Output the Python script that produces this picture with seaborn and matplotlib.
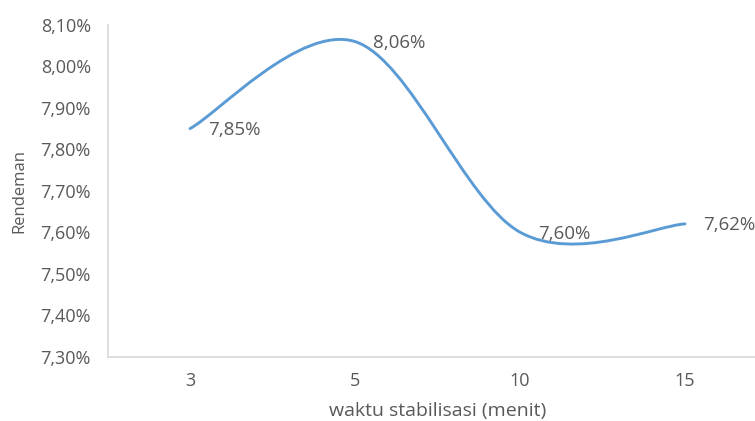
import numpy as np
import matplotlib
matplotlib.use("Agg")
import matplotlib.pyplot as plt
from matplotlib.path import Path
from matplotlib.patches import PathPatch
import seaborn as sns

# Data
waktu = ["3", "5", "10", "15"]
rendeman = [7.85, 8.06, 7.60, 7.62]
y_ticks = [7.30, 7.40, 7.50, 7.60, 7.70, 7.80, 7.90, 8.00, 8.10]

LINE = "#5B9BD5"
TEXT = "#595959"
AXIS = "#D9D9D9"

sns.set_theme(style="white")
plt.rcParams["font.family"] = ["Open Sans", "DejaVu Sans"]

fig = plt.figure(figsize=(7.55, 4.21), dpi=100)
ax = fig.add_axes([107.5 / 755, 64.5 / 421, 660 / 755, 331.5 / 421])

x = np.arange(len(waktu), dtype=float)
y = np.array(rendeman)

# Smoothed line: cubic Bezier segments with Catmull-Rom style control points
pts = np.column_stack([x, y])
ext = np.vstack([pts[0], pts, pts[-1]])
verts = [tuple(pts[0])]
codes = [Path.MOVETO]
for i in range(len(pts) - 1):
    p_prev, p0, p1, p_next = ext[i], ext[i + 1], ext[i + 2], ext[i + 3]
    c1 = p0 + (p1 - p_prev) / 6.0
    c2 = p1 - (p_next - p0) / 6.0
    verts += [tuple(c1), tuple(c2), tuple(p1)]
    codes += [Path.CURVE4] * 3
ax.add_patch(PathPatch(Path(verts, codes), facecolor="none", edgecolor=LINE,
                       lw=2.1, capstyle="round", joinstyle="round",
                       transform=ax.transData, zorder=3))

# Value labels to the right of each point
for xi, yi in zip(x, y):
    ax.annotate(f"{yi:.2f}%".replace(".", ","), (xi, yi), xytext=(13, -1),
                textcoords="offset points", ha="left", va="center",
                fontsize=13.5, color=TEXT, zorder=4)

ax.set_xlim(-0.5, len(waktu) - 0.5)
ax.set_ylim(y_ticks[0], y_ticks[-1])
ax.set_xticks(x)
ax.set_xticklabels(waktu)
ax.set_yticks(y_ticks)
ax.set_yticklabels([f"{t:.2f}%".replace(".", ",") for t in y_ticks])
ax.tick_params(axis="both", length=0, labelsize=13, labelcolor=TEXT)
ax.tick_params(axis="x", pad=11)
ax.tick_params(axis="y", pad=12)

sns.despine(ax=ax, top=True, right=True)
for side in ("left", "bottom"):
    ax.spines[side].set_color(AXIS)
    ax.spines[side].set_linewidth(1.2)
ax.grid(False)

ax.set_xlabel("waktu stabilisasi (menit)", fontsize=14, color=TEXT, labelpad=9)
ax.set_ylabel("Rendeman", fontsize=12, color=TEXT, labelpad=9)

fig.savefig("out.png", dpi=100, facecolor="white")
